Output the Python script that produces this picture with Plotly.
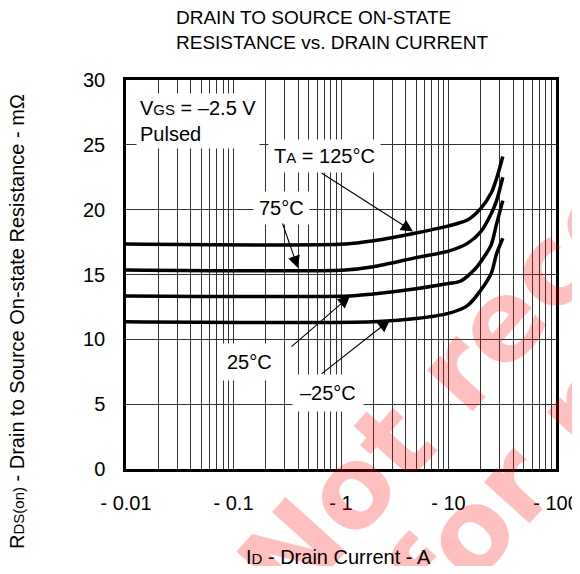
import numpy as np
import plotly.graph_objects as go

FONT = "Arial, Liberation Sans, sans-serif"
GRID = "#333333"

# ─── Data ────────────────────────────────────────────────────────────────────
x_125 = [0.01, 1.1, 2, 5, 10, 15, 20, 25, 28, 32]
y_125 = [17.35, 17.35, 17.6, 18.2, 18.75, 19.2, 20.1, 21.3, 22.4, 24.1]

x_75 = [0.01, 1.1, 2, 5, 10, 15, 20, 25, 28, 32]
y_75 = [15.35, 15.35, 15.6, 16.3, 16.8, 17.4, 18.3, 19.7, 20.7, 22.5]

x_25 = [0.01, 1.2, 2, 5, 10, 13, 18, 22, 25, 28, 32]
y_25 = [13.35, 13.35, 13.5, 13.9, 14.3, 14.5, 15.5, 16.5, 17.3, 18.9, 20.7]

x_m25 = [0.01, 2, 5, 10, 15, 20, 25, 28, 32]
y_m25 = [11.35, 11.35, 11.6, 12.0, 12.6, 13.8, 15.1, 16.6, 17.8]

x_tickvals = [m * 10.0 ** e for e in range(-2, 2) for m in range(1, 10)] + [100]
x_ticktext = ["- 0.01", "- 0.1", "- 1", "- 10", "- 100"]
y_tickvals = [0, 5, 10, 15, 20, 25, 30]

curves = [(x_125, y_125), (x_75, y_75), (x_25, y_25), (x_m25, y_m25)]


def lg(px):
    # page pixel column -> log10 position on the x axis
    return -2 + (px - 126) / 107.5


def val(py):
    # page pixel row -> y value
    return (469 - py) / 12.967


def px_paper(px, py):
    return (px - 126) / 430, (469 - py) / 389


fig = go.Figure()
for xs, ys in curves:
    fig.add_trace(go.Scatter(
        x=xs, y=ys, mode="lines",
        line=dict(color="black", width=3.5, shape="spline", smoothing=0.8),
        showlegend=False, hoverinfo="skip",
    ))

ticktext_all = []
for v in x_tickvals:
    d = np.log10(v)
    ticktext_all.append(x_ticktext[int(round(d)) + 2] if abs(d - round(d)) < 1e-9 else "")

annotations = []

# ─── Watermark ───────────────────────────────────────────────────────────────
wm_font = dict(family="DejaVu Sans, sans-serif", size=112, color="rgba(255,0,0,0.25)")
for txt, (cx, cy) in [("Not recommended", (650, 156)), ("for new design", (724, 249))]:
    xp, yp = px_paper(cx, cy)
    annotations.append(dict(text=f"<b>{txt}</b>", xref="paper", yref="paper",
                            x=xp, y=yp, xanchor="center", yanchor="middle",
                            textangle=-48, showarrow=False, font=wm_font))

# ─── Labels ──────────────────────────────────────────────────────────────────
lab_font = dict(family=FONT, size=20, color="black")
sm = '<span style="font-size:15px">'
annotations += [
    dict(text=f"V{sm}GS</span> = –2.5 V<br>Pulsed", x=lg(136), y=val(93),
         xanchor="left", yanchor="top", align="left", showarrow=False,
         bgcolor="white", borderpad=3, font=lab_font),
    dict(text=f"T{sm}A</span> = 125°C", x=lg(324), y=val(156), showarrow=False,
         bgcolor="white", borderpad=5, font=lab_font),
    dict(text="75°C", x=lg(281), y=val(208), showarrow=False,
         bgcolor="white", borderpad=5, font=lab_font),
    dict(text="25°C", x=lg(249), y=val(362), showarrow=False,
         bgcolor="white", borderpad=7, font=lab_font),
    dict(text="–25°C", x=lg(328), y=val(393), showarrow=False,
         bgcolor="white", borderpad=7, font=lab_font),
]

# arrows: (tail px, head px)
arrows = [((320, 172), (413, 231.5)), ((282, 222), (298, 268)),
          ((290, 348), (350, 296)), ((320, 375), (390, 320))]
for (tx, ty), (hx, hy) in arrows:
    annotations.append(dict(text="", x=lg(hx), y=val(hy), ax=lg(tx), ay=val(ty),
                            axref="x", ayref="y", showarrow=True, arrowhead=2,
                            arrowsize=2.2, arrowwidth=1.1, arrowcolor="black"))

# ─── Titles ──────────────────────────────────────────────────────────────────
tx0, ty0 = px_paper(174, 5)
ytx, yty = px_paper(17, 322)
xtx, xty = px_paper(338, 557)
annotations += [
    dict(text="DRAIN TO SOURCE ON-STATE<br>RESISTANCE vs. DRAIN CURRENT",
         xref="paper", yref="paper", x=tx0, y=ty0,
         xanchor="left", yanchor="top", align="left", showarrow=False,
         font=dict(family=FONT, size=19, color="black")),
    dict(text=f"R{sm}DS(on)</span> - Drain to Source On-state Resistance - mΩ",
         xref="paper", yref="paper", x=ytx, y=yty, xanchor="center", yanchor="middle",
         textangle=-90, showarrow=False, font=dict(family=FONT, size=20, color="black")),
    dict(text=f"I{sm}D</span> - Drain Current - A",
         xref="paper", yref="paper", x=xtx, y=xty, xanchor="center", yanchor="middle",
         showarrow=False, font=dict(family=FONT, size=20, color="black")),
]

# page has an 8px body margin; keep the figure inside the window
fig.update_layout(
    width=572, height=558,
    paper_bgcolor="white", plot_bgcolor="white",
    margin=dict(l=118, r=24, t=72, b=97, autoexpand=False),
    font=dict(family=FONT, size=20, color="black"),
    annotations=annotations,
    xaxis=dict(type="log", range=[-2, 2], tickvals=x_tickvals, ticktext=ticktext_all,
               showgrid=True, gridcolor=GRID, gridwidth=1, ticks="",
               showline=True, linecolor="black", linewidth=2.5, mirror=True,
               ticklabelstandoff=14, zeroline=False, automargin=False),
    yaxis=dict(range=[0, 30], tickvals=y_tickvals, showgrid=True, gridcolor=GRID,
               gridwidth=1, ticks="", showline=True, linecolor="black", linewidth=2.5,
               mirror=True, ticklabelstandoff=14, zeroline=False, automargin=False),
)

fig.write_html("out.html")
